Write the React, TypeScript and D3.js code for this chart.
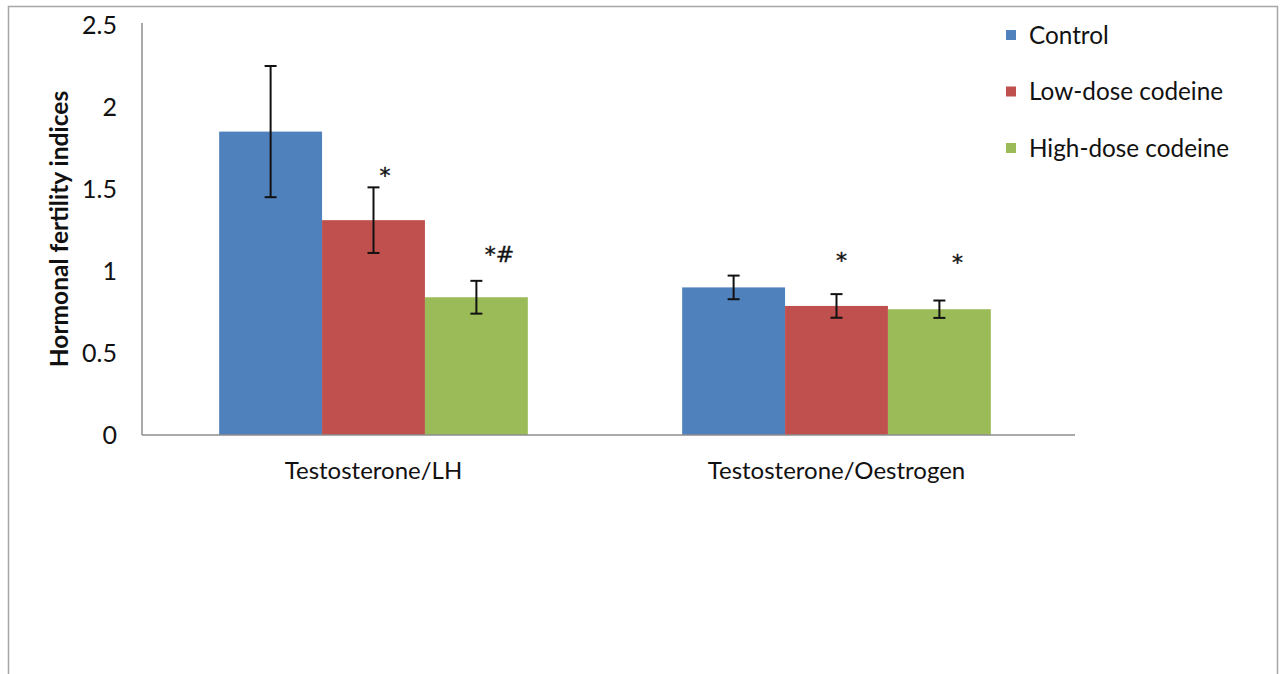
import React from "react";
import * as d3 from "d3";

const categories = ["Testosterone/LH", "Testosterone/Oestrogen"];
const seriesNames = ["Control", "Low-dose codeine", "High-dose codeine"];
const seriesColors = ["#4F81BD", "#C0504D", "#9BBB59"];
const controlValues = [1.85, 0.9];
const controlErrors = [0.4, 0.072];
const lowDoseValues = [1.31, 0.787];
const lowDoseErrors = [0.2, 0.072];
const highDoseValues = [0.84, 0.767];
const highDoseErrors = [0.1, 0.053];
const yTicks = [0, 0.5, 1, 1.5, 2, 2.5];
// significance marks: category, series index, label, value level of the mark baseline
const marks = [
  { cat: 0, series: 1, label: "*", level: 1.535 },
  { cat: 0, series: 2, label: "*#", level: 1.055 },
  { cat: 1, series: 1, label: "*", level: 1.018 },
  { cat: 1, series: 2, label: "*", level: 1.006 },
];
const markOffsets = [11.5, 23, 5, 18];

const values = [controlValues, lowDoseValues, highDoseValues];
const errors = [controlErrors, lowDoseErrors, highDoseErrors];

export default function App() {
  const W = 1282, H = 674;
  const left = 142, right = 1068, top = 25, bottom = 435;
  const font = "Lato, 'Open Sans', sans-serif";

  const x0 = d3.scaleBand<string>().domain(categories).range([left, right]).paddingInner(0).paddingOuter(0);
  const groupW = x0.bandwidth() / 1.5;
  const x1 = d3.scaleBand<string>().domain(seriesNames).range([0, groupW]);
  const y = d3.scaleLinear().domain([0, 2.5]).range([bottom, top]);

  const groupStart = (c: string) => (x0(c) as number) + (x0.bandwidth() - groupW) / 2;

  return (
    <svg width={W} height={H} style={{ position: "absolute", left: 0, top: 0, background: "#fff" }}>
      <rect x={8.5} y={6.5} width={1269} height={720} fill="#fff" stroke="#a6a6a6" strokeWidth={1.5} />
      {/* y ticks */}
      {yTicks.map((t) => (
        <text key={t} x={117} y={y(t)} dy="0.36em" textAnchor="end" fontFamily={font} fontSize={25} fill="#111">
          {t}
        </text>
      ))}
      <text
        transform={`translate(68,${229}) rotate(-90)`}
        textAnchor="middle"
        fontFamily={font}
        fontWeight="bold"
        fontSize={24.5}
        fill="#111"
      >
        Hormonal fertility indices
      </text>
      {/* bars */}
      {categories.map((c, ci) =>
        seriesNames.map((s, si) => {
          const bx = groupStart(c) + (x1(s) as number);
          const v = values[si][ci];
          return (
            <rect key={c + s} x={bx} y={y(v)} width={x1.bandwidth()} height={y(0) - y(v)} fill={seriesColors[si]} />
          );
        })
      )}
      {/* axes */}
      <line x1={left} x2={left} y1={top - 2} y2={bottom} stroke="#8c8c8c" strokeWidth={1.5} />
      <line x1={left} x2={right + 7} y1={bottom} y2={bottom} stroke="#8c8c8c" strokeWidth={1.5} />
      {/* error bars */}
      {categories.map((c, ci) =>
        seriesNames.map((s, si) => {
          const cx = groupStart(c) + (x1(s) as number) + x1.bandwidth() / 2;
          const v = values[si][ci];
          const e = errors[si][ci];
          const yt = y(v + e), yb = y(v - e);
          return (
            <g key={"e" + c + s} stroke="#111" strokeWidth={2}>
              <line x1={cx} x2={cx} y1={yt} y2={yb} />
              <line x1={cx - 6} x2={cx + 6} y1={yt} y2={yt} />
              <line x1={cx - 6} x2={cx + 6} y1={yb} y2={yb} />
            </g>
          );
        })
      )}
      {/* significance marks */}
      {marks.map((m, i) => {
        const cx = groupStart(categories[m.cat]) + (x1(seriesNames[m.series]) as number) + x1.bandwidth() / 2;
        return (
          <text key={i} x={cx + markOffsets[i]} y={y(m.level)} textAnchor="middle" fontFamily="'DejaVu Sans', sans-serif" fontSize={22} fill="#111" stroke="#111" strokeWidth={0.4}>
            {m.label}
          </text>
        );
      })}
      {/* category labels */}
      {categories.map((c) => (
        <text key={c} x={(x0(c) as number) + x0.bandwidth() / 2} y={479} textAnchor="middle" fontFamily={font} fontSize={24} fill="#111">
          {c}
        </text>
      ))}
      {/* legend */}
      {seriesNames.map((s, i) => (
        <g key={s} transform={`translate(1006,${35 + i * 56.5})`}>
          <rect x={0} y={-5} width={10} height={10} fill={seriesColors[i]} />
          <text x={23} y={0} dy="0.36em" fontFamily={font} fontSize={24.3} fill="#111">
            {s}
          </text>
        </g>
      ))}
    </svg>
  );
}
